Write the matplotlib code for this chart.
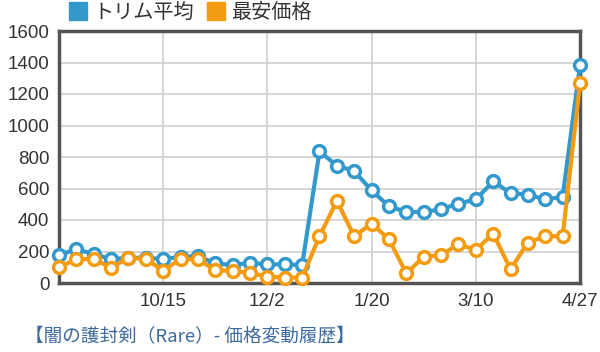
import matplotlib
matplotlib.use("Agg")
import matplotlib.pyplot as plt
from matplotlib.lines import Line2D

plt.rcParams['font.family'] = ['Noto Sans CJK JP', 'DejaVu Sans']

series_names = ["トリム平均", "最安価格"]
trim_avg = [177, 215, 183, 152, 160, 160, 152, 166, 171, 124, 114, 128, 118, 118, 114,
            835, 746, 710, 588, 487, 451, 451, 468, 504, 531, 645, 571, 561, 531, 546, 1383]
min_price = [99, 152, 152, 97, 160, 152, 78, 152, 150, 82, 76, 65, 40, 34, 34,
             297, 521, 297, 377, 278, 61, 166, 177, 247, 209, 314, 87, 257, 297, 297, 1267]
tick_positions = [6, 12, 18, 24, 30]
tick_labels = ["10/15", "12/2", "1/20", "3/10", "4/27"]
y_ticks = [0, 200, 400, 600, 800, 1000, 1200, 1400, 1600]
title_text = "【闇の護封剣（Rare）- 価格変動履歴】"

blue = "#3399cc"
orange = "#f39c12"

fig = plt.figure(figsize=(6, 3.52), dpi=100)
ax = fig.add_axes([59/600, 1-283/352, (580-59)/600, (283-31)/352])

x = list(range(len(trim_avg)))
for vals, c, z in [(trim_avg, blue, 3), (min_price, orange, 4)]:
    ax.plot(x, vals, color=c, lw=3, marker='o', markersize=8.5,
            markerfacecolor='white', markeredgecolor=c, markeredgewidth=2.5,
            clip_on=False, zorder=z)

ax.set_xlim(0, 30)
ax.set_ylim(0, 1600)
ax.set_yticks(y_ticks)
ax.set_xticks(tick_positions)
ax.set_xticklabels(tick_labels)
ax.tick_params(length=0, labelsize=13.5, colors="#333333", pad=7)
for lab in ax.get_xticklabels() + ax.get_yticklabels():
    lab.set_fontfamily(['Liberation Sans', 'DejaVu Sans'])
ax.grid(True, color="#d0d0d0", lw=1.2)
ax.set_axisbelow(True)
for s in ax.spines.values():
    s.set_color("#555555")
    s.set_linewidth(2.5)

handles = [Line2D([], [], marker='s', ls='', markersize=13, color=blue),
           Line2D([], [], marker='s', ls='', markersize=13, color=orange)]
fig.legend(handles, series_names, loc='upper left', bbox_to_anchor=(50/600, 1.045),
           ncol=2, frameon=False, fontsize=14.5, handletextpad=0.25,
           columnspacing=0.6, handlelength=1.0, labelcolor="#333333")

fig.text(25/600, 1-337/352, title_text, fontsize=13.4, color="#3d6a9e", va='center', ha='left')

fig.savefig("out.png", dpi=100)
